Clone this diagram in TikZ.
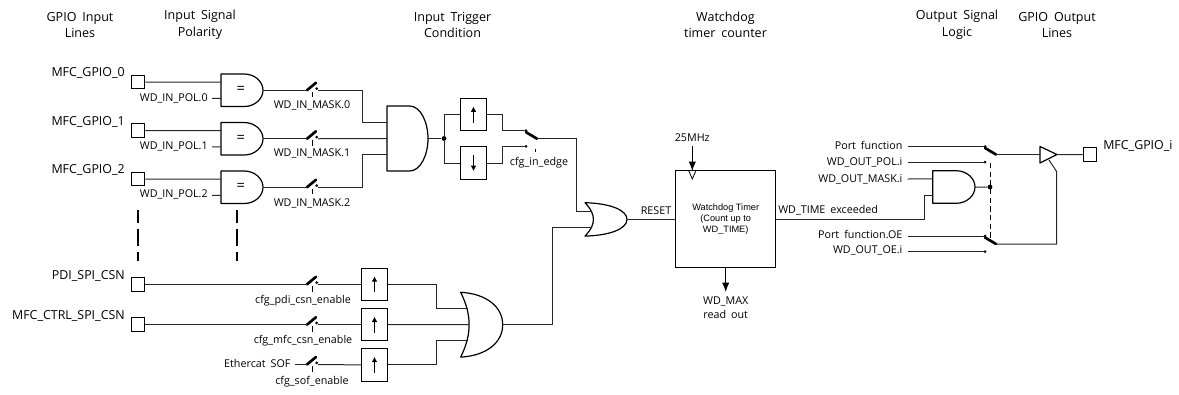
\documentclass[tikz,border=0pt]{standalone}
\usepackage{fontspec}
\setmainfont[WordSpace=1.8]{Open Sans}
\newfontfamily\arialf{Liberation Sans}
\usetikzlibrary{arrows.meta}
\newcommand\andgate[5]{%
 \begin{scope}[shift={(#2,#3)},x=#4*0.75pt,y=-#5*0.75pt]
  \draw[gate] (0,0) -- (.55,0) .. controls (.82,0) and (1,.25) .. (1,.5) .. controls (1,.75) and (.82,1) .. (.55,1) -- (0,1) -- cycle;
  \coordinate (#1a) at (0,.25); \coordinate (#1b) at (0,.5); \coordinate (#1c) at (0,.75); \coordinate (#1o) at (1,.5); \coordinate (#1m) at (.47,.5);
 \end{scope}}
\newcommand\orgate[5]{%
 \begin{scope}[shift={(#2,#3)},x=#4*0.75pt,y=-#5*0.75pt]
  \draw[gate] (0,0) .. controls (.6,.02) and (1,.22) .. (1,.5) .. controls (1,.78) and (.6,.98) .. (0,1) .. controls (.15,.8) and (.2,.65) .. (.2,.5) .. controls (.2,.35) and (.15,.2) .. (0,0) -- cycle;
  \coordinate (#1a) at (.17,.25); \coordinate (#1b) at (.2,.5); \coordinate (#1c) at (.17,.75); \coordinate (#1o) at (1,.5);
 \end{scope}}
% switch with lever rising to the right of its left input
\newcommand\maskswitch[3]{%
 \coordinate (#1i) at (#2,#3);
 \coordinate (#1o) at ([shift={(11,0)}]#1i);
 \draw[lever] (#1i) -- ++(9,-7.5);
 \fill ([shift={(9.7,-1.7)}]#1i) circle (1.5);
 \draw[thin] ([shift={(5,1.7)}]#1i) -- ++(0,5.5);}
% changeover switch: lever falls to the right
\newcommand\selswitch[3]{%
 \coordinate (#1a) at (#2,#3);
 \coordinate (#1o) at ([shift={(11,8)}]#1a);
 \coordinate (#1b) at ([shift={(0,15.7)}]#1a);
 \draw[lever] ([shift={(0,1.5)}]#1a) -- (#1o);
 \fill (#1a) circle (1.5);
 \fill (#1b) circle (1.5);}
\newcommand\edgebox[4]{% name, cx, cy, arrow style
 \node[edgeb] (#1) at (#2,#3) {};
 \draw[#4] ([shift={(0,8)}]#1.center) -- ([shift={(0,-8)}]#1.center);}
\tikzset{
 x=0.75pt,y=-0.75pt,
 wire/.style={line width=0.75pt,draw=black!85},
 gate/.style={line width=0.9pt,line join=round},
 lever/.style={line width=2pt,line cap=round},
 pad/.style={draw,line width=0.75pt,minimum width=10.2pt,minimum height=10.2pt,inner sep=0pt},
 edgeb/.style={draw,line width=0.75pt,minimum width=18.8pt,minimum height=24.4pt,inner sep=0pt},
 txt/.style={inner sep=0pt,text height=7pt,text depth=2pt,font=\fontsize{8.05}{10}\selectfont},
 big/.style={txt,font=\fontsize{9.3}{10}\selectfont},
 eqs/.style={txt,font=\fontsize{11}{10}\selectfont},
 head/.style={inner sep=0pt,align=center,font=\fontsize{9.4}{12.4}\selectfont},
 junction/.style={circle,fill,inner sep=0pt,minimum size=3.6pt},
 upa/.style={line width=0.75pt,-{Latex[length=4pt,width=4.4pt]}},
 dna/.style={line width=0.75pt,{Latex[length=4pt,width=4.4pt]}-},
 bigarrow/.style={line width=0.75pt,-{Latex[length=7pt,width=5.4pt]}},
 breakline/.style={line width=1.2pt,dash pattern=on 12.75pt off 4.5pt,dash phase=3pt},
 linkline/.style={line width=0.75pt,dash pattern=on 4pt off 2.5pt},
}
\begin{document}
\begin{tikzpicture}
\useasboundingbox (0,0) rectangle (1179,394);
% headings
\node[head] (h1) at (80,25) {GPIO Input\\Lines};
\node[head] (h2) at (200,25) {Input Signal\\Polarity};
\node[head] (h3) at (452.5,25) {Input Trigger\\Condition};
\node[head] (h4) at (725.5,25) {Watchdog\\timer counter};
\node[head] (h5) at (957,25) {Output Signal\\Logic};
\node[head] (h6) at (1057,25) {GPIO Output\\Lines};
% input pads
\node[pad] (p0) at (138,82) {};
\node[pad] (p1) at (138,130.5) {};
\node[pad] (p2) at (138,179) {};
\node[pad] (p3) at (138,284.3) {};
\node[pad] (p4) at (138,324.7) {};
\node[big,anchor=east] (l0) at (125,73.5) {MFC\_GPIO\_0};
\node[big,anchor=east] (l1) at (125,122) {MFC\_GPIO\_1};
\node[big,anchor=east] (l2) at (125,170.5) {MFC\_GPIO\_2};
\node[big,anchor=east] (l3) at (125,276) {PDI\_SPI\_CSN};
\node[big,anchor=east] (l4) at (125,316) {MFC\_CTRL\_SPI\_CSN};
% polarity gates
\andgate{g0}{221}{74}{42}{32.5}
\andgate{g1}{221}{122.5}{42}{32.5}
\andgate{g2}{221}{171}{42}{32.5}
\node[eqs] (e0) at (g0m) {=};
\node[eqs] (e1) at (g1m) {=};
\node[eqs] (e2) at (g2m) {=};
\node[txt,anchor=east] (pol0) at (208,98) {WD\_IN\_POL.0};
\node[txt,anchor=east] (pol1) at (208,146) {WD\_IN\_POL.1};
\node[txt,anchor=east] (pol2) at (208,194.5) {WD\_IN\_POL.2};
\coordinate (q0) at (212,98.4); \coordinate (q1) at (212,146.9); \coordinate (q2) at (212,195.4);
\draw[wire] (p0) -- (g0a); \draw[wire] (q0) -- (g0c);
\draw[wire] (p1) -- (g1a); \draw[wire] (q1) -- (g1c);
\draw[wire] (p2) -- (g2a); \draw[wire] (q2) -- (g2c);
% mask switches
\maskswitch{s0}{307}{90.25}
\maskswitch{s1}{307}{138.75}
\maskswitch{s2}{307}{187.25}
\node[txt] (m0) at (312,105.5) {WD\_IN\_MASK.0};
\node[txt] (m1) at (312,153.5) {WD\_IN\_MASK.1};
\node[txt] (m2) at (312,202.7) {WD\_IN\_MASK.2};
\draw[wire] (g0o) -- (s0i); \draw[wire] (g1o) -- (s1i); \draw[wire] (g2o) -- (s2i);
% combining gate
\andgate{big}{387}{106}{41}{65}
\draw[wire] (s0o) -- ++(44,0) |- (biga);
\draw[wire] (s1o) -- (bigb);
\draw[wire] (s2o) -- ++(44,0) |- (bigc);
% edge detectors
\node[junction] (jn) at (444,138.5) {};
\edgebox{up}{473.5}{114.5}{upa}
\edgebox{dn}{473.5}{163}{dna}
\draw[wire] (bigo) -- (jn);
\draw[wire] (jn) |- (up.west);
\draw[wire] (jn) |- (dn.west);
\selswitch{se}{526}{130.7}
\node[txt] (edge) at (539,162) {cfg\_in\_edge};
\coordinate (e1t) at (535,148.5); \coordinate (e2t) at (535,152);
\draw[thin] (e1t) -- (e2t);
\draw[wire] (up.east) -- ++(16,0) |- (sea);
\draw[wire] (dn.east) -- ++(16,0) |- (seb);
% reset OR gate
\orgate{ro}{585}{202.7}{42}{33.4}
\draw[wire] (seo) -- ++(39.5,0) |- (roa);
% lower inputs
\maskswitch{s3}{307}{284.3}
\maskswitch{s4}{307}{324.7}
\maskswitch{s5}{307}{364.5}
\draw[wire] (p3) -- (s3i); \draw[wire] (p4) -- (s4i);
\node[txt,anchor=east] (sof) at (290.7,364) {Ethercat SOF};
\coordinate (sofs) at (295,364.5);
\draw[wire] (sofs) -- (s5i);
\node[txt] (c3) at (303,300) {cfg\_pdi\_csn\_enable};
\node[txt] (c4) at (303,340) {cfg\_mfc\_csn\_enable};
\node[txt] (c5) at (312,381) {cfg\_sof\_enable};
\edgebox{b3}{374.5}{284.3}{upa}
\edgebox{b4}{374.5}{324.7}{upa}
\edgebox{b5}{374.5}{364.9}{upa}
\draw[wire] (s3o) -- (b3.west); \draw[wire] (s4o) -- (b4.west); \draw[wire] (s5o) -- (b5.west);
\orgate{lo}{460.7}{292.3}{42}{64.8}
\draw[wire] (b3.east) -- ++(49,0) |- (loa);
\draw[wire] (b4.east) -- (lob);
\draw[wire] (b5.east) -- ++(49,0) |- (loc);
\draw[wire] (loo) -- ++(49.3,0) |- (roc);
% break marks
\coordinate (d1) at (138,210); \coordinate (d2) at (138,261);
\coordinate (d3) at (237,210); \coordinate (d4) at (237,261);
\draw[breakline] (d1) -- (d2);
\draw[breakline] (d3) -- (d4);
% timer
\node[draw,line width=0.75pt,minimum width=74.6pt,minimum height=72.5pt,inner sep=0pt] (tm) at (725.7,219.3) {};
\node[inner sep=0pt,align=center,font=\arialf\fontsize{6.9}{8}\selectfont] (tmt) at (725.7,219.2) {Watchdog Timer\\(Count up to\\WD\_TIME)};
\node[txt] (rst) at (656,211) {RESET};
\draw[wire] (roo) -- (roo -| tm.west);
\node[txt] (clk) at (692.3,138) {25MHz};
\coordinate (clks) at (692.3,146);
\coordinate (clke) at (692.3,171);
\coordinate (ck1) at (688.8,171); \coordinate (ck2) at (692.3,179); \coordinate (ck3) at (695.8,171);
\draw[bigarrow] (clks) -- (clke);
\draw[line width=0.6pt] (ck1) -- (ck2) -- (ck3);
\coordinate (mx) at (725.7,292);
\draw[bigarrow] (tm.south) -- (mx);
\node[txt] (mx1) at (725.7,300.7) {WD\_MAX};
\node[txt] (mx2) at (725.7,315) {read out};
% output logic
\node[txt,anchor=east] (r1) at (902.7,146) {Port function};
\node[txt,anchor=east] (r2) at (902.7,162) {WD\_OUT\_POL.i};
\node[txt,anchor=east] (r3) at (902.7,178.7) {WD\_OUT\_MASK.i};
\node[txt,anchor=west] (r4) at (778,210.5) {WD\_TIME exceeded};
\node[txt,anchor=east] (r5) at (902.7,234.7) {Port function.OE};
\node[txt,anchor=east] (r6) at (902.7,250) {WD\_OUT\_OE.i};
\coordinate (w1) at (907.7,146.5); \coordinate (w2) at (907.7,162.2); \coordinate (w3) at (907.7,179);
\coordinate (w5) at (907.7,236); \coordinate (w6) at (907.7,251.7);
\andgate{oa}{932.7}{170.7}{42.3}{32.6}
\selswitch{su}{985}{146.5}
\selswitch{sl}{985}{236}
\draw[wire] (w1) -- (sua); \draw[wire] (w2) -- (sub);
\draw[wire] (w5) -- (sla); \draw[wire] (w6) -- (slb);
\draw[wire] (w3) -- (oaa);
\coordinate (tmr) at (775.5,219.3);
\draw[wire] (tmr) -- ++(148.5,0) |- (oac);
\node[junction] (jo) at (990,187) {};
\draw[wire] (oao) -- (jo);
\coordinate (k1) at (990,163); \coordinate (k2) at (990,238);
\draw[linkline] (k1) -- (k2);
% output buffer
\coordinate (bi) at (1040,154.5); \coordinate (bo) at (1057,154.5);
\coordinate (bt) at (1040,146.5); \coordinate (bb) at (1040,163);
\coordinate (be1) at (1049,160); \coordinate (be2) at (1056.7,171.7);
\draw[gate] (bt) -- (bo) -- (bb) -- cycle;
\node[pad] (po) at (1090,154.7) {};
\draw[wire] (suo) -- (bi);
\draw[wire] (bo) -- (po);
\draw[wire] (slo) -| (be2) -- (be1);
\node[big,anchor=west] (lo1) at (1103,146) {MFC\_GPIO\_i};
\end{tikzpicture}
\end{document}
